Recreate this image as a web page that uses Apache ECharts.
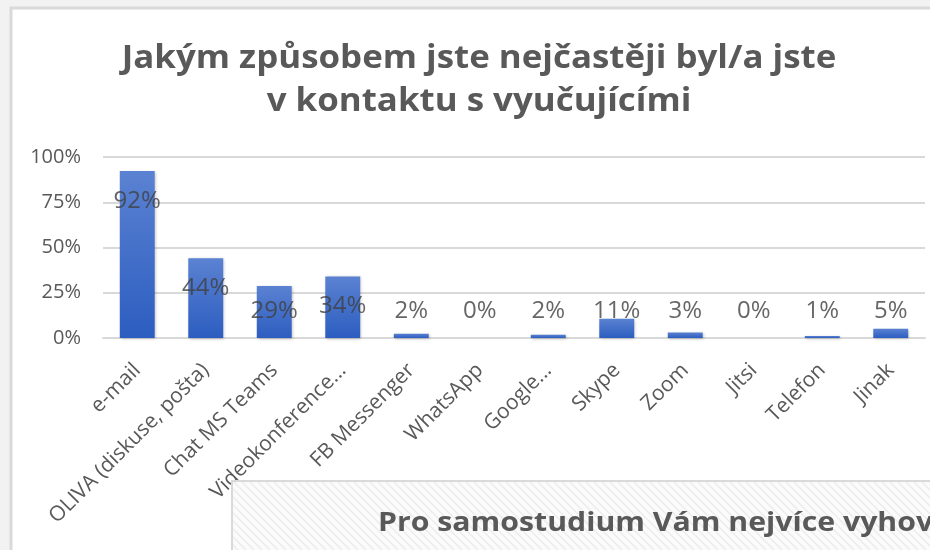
<!DOCTYPE html>
<html>
<head>
<meta charset="utf-8">
<script src="https://cdn.jsdelivr.net/npm/echarts@6/dist/echarts.min.js"></script>
<style>
  html, body { margin: 0; padding: 0; background: #f2f2f2; }
  #chart { width: 930px; height: 550px; }
</style>
</head>
<body>
<div id="chart"></div>
<script>
const categories = ['e-mail', 'OLIVA (diskuse, pošta)', 'Chat MS Teams', 'Videokonference...', 'FB Messenger', 'WhatsApp', 'Google...', 'Skype', 'Zoom', 'Jitsi', 'Telefon', 'Jinak']
const shares = [0.923, 0.44, 0.287, 0.34, 0.024, 0, 0.018, 0.106, 0.031, 0, 0.011, 0.051]
const yTicks = [0, 0.25, 0.5, 0.75, 1]

const titleLines = ['Jakým způsobem jste nejčastěji byl/a jste', 'v kontaktu s vyučujícími']
const nextTitle = 'Pro samostudium Vám nejvíce vyhovovalo'

// labels sit inside the bar top, small bars get pushed up to a common row
const labelLevels = shares.map(v => Math.max(v - 0.165, 0.15))

// hatched fill of the overlapping chart
const hatch = document.createElement('canvas')
hatch.width = 8
hatch.height = 8
const hc = hatch.getContext('2d')
hc.fillStyle = '#fbfbfb'
hc.fillRect(0, 0, 8, 8)
hc.strokeStyle = '#ececec'
hc.lineWidth = 1.5
hc.beginPath()
hc.moveTo(-2, -2); hc.lineTo(10, 10)
hc.moveTo(-6, 2); hc.lineTo(6, 14)
hc.moveTo(2, -6); hc.lineTo(14, 6)
hc.stroke()

const font = '"Open Sans", sans-serif'
const chart = echarts.init(document.getElementById('chart'))

chart.setOption({
  backgroundColor: '#f2f2f2',
  animation: false,
  grid: { left: 103, right: 5, top: 157, bottom: 212 },
  xAxis: {
    type: 'category',
    data: categories,
    axisLine: { lineStyle: { color: '#d9d9d9', width: 2 } },
    axisTick: { show: false },
    axisLabel: {
      rotate: 45,
      interval: 0,
      margin: 29,
      color: '#595959',
      fontSize: 21,
      fontFamily: font
    }
  },
  yAxis: {
    type: 'value',
    min: yTicks[0],
    max: yTicks[yTicks.length - 1],
    interval: 0.25,
    axisLine: { show: false },
    axisTick: { show: false },
    splitLine: { lineStyle: { color: '#d9d9d9', width: 2 } },
    axisLabel: {
      margin: 22,
      color: '#595959',
      fontSize: 20,
      fontFamily: font,
      formatter: v => Math.round(v * 100) + '%'
    }
  },
  series: [
    {
      type: 'bar',
      data: shares,
      barWidth: '51%',
      itemStyle: {
        color: new echarts.graphic.LinearGradient(0, 0, 0, 1, [
          { offset: 0, color: '#5b82d2' },
          { offset: 1, color: '#2c5dc0' }
        ]),
        shadowColor: 'rgba(0,0,0,0.25)',
        shadowBlur: 3,
        shadowOffsetX: 1,
        shadowOffsetY: 1
      }
    },
    {
      type: 'scatter',
      data: labelLevels,
      symbolSize: 0,
      silent: true,
      z: 5,
      label: {
        show: true,
        position: 'inside',
        color: '#404040',
        fontSize: 24,
        fontFamily: font,
        formatter: p => Math.round(shares[p.dataIndex] * 100) + '%'
      }
    }
  ],
  graphic: [
    {
      type: 'rect',
      z: -10,
      shape: { x: 11, y: 8, width: 1000, height: 600 },
      style: { fill: '#ffffff', stroke: '#d9d9d9', lineWidth: 3 }
    },
    {
      type: 'text',
      z: 10,
      x: 479,
      y: 37,
      scaleX: 1.09,
      style: {
        text: titleLines.join('\n'),
        align: 'center',
        fill: '#595959',
        font: 'bold 32px ' + font,
        lineHeight: 43
      }
    },
    {
      type: 'rect',
      z: 100,
      shape: { x: 232, y: 481, width: 800, height: 200 },
      style: { fill: { image: hatch, repeat: 'repeat' }, stroke: '#d9d9d9', lineWidth: 2 }
    },
    {
      type: 'text',
      z: 101,
      x: 378,
      y: 523,
      scaleX: 1.12,
      style: {
        text: nextTitle,
        verticalAlign: 'middle',
        fill: '#595959',
        font: 'bold 27px ' + font
      }
    }
  ]
})
</script>
</body>
</html>
